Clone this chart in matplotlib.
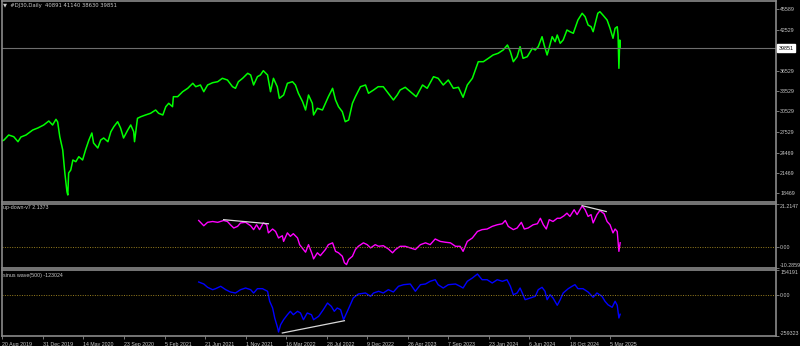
import matplotlib
matplotlib.use("Agg")
import matplotlib.pyplot as plt
import numpy as np

# DJ30 daily, x = bar number counted from 20 Aug 2019
price_bar = [-4, 4, 15, 27, 37, 44, 56, 72, 84, 98, 110, 119, 127, 131, 136, 143, 148, 153, 155, 157,
             162, 167, 174, 181, 190, 197, 205, 212, 216, 226, 233, 240, 250, 257, 264, 273, 280, 287, 297, 304,
             311, 313, 320, 328, 339, 351, 363, 370, 380, 387, 394, 403, 405, 415, 427, 439, 451, 458, 469, 477,
             486, 498, 510, 521, 533, 545, 552, 559, 569, 581, 588, 595, 604, 611, 618, 628, 635, 642, 651, 656,
             666, 675, 687, 694, 701, 711, 718, 725, 734, 737, 746, 758, 765, 772, 782, 789, 796, 805, 812, 820,
             829, 836, 848, 860, 867, 879, 890, 902, 914, 926, 935, 942, 954, 966, 980, 995, 1006, 1021, 1032, 1044,
             1056, 1068, 1080, 1091, 1101, 1113, 1120, 1127, 1139, 1151, 1162, 1174, 1186, 1196, 1203, 1210, 1219, 1226, 1233, 1243,
             1255, 1262, 1269, 1278, 1283, 1290, 1302, 1309, 1314, 1321, 1328, 1337, 1344, 1352, 1359, 1363, 1373, 1380, 1387, 1394,
             1399, 1410, 1415, 1422, 1432, 1439, 1446, 1451, 1456, 1458, 1460, 1462, 1463]
price_val = [26074, 26324, 27059, 26809, 26074, 26765, 27059, 27795, 28089, 28530, 29118, 28530, 29368, 28971, 26809, 24854, 21471, 18721, 18236, 21471,
             21912, 23383, 23133, 23868, 23383, 24854, 26324, 27354, 25883, 25148, 26324, 26618, 26074, 27545, 28280, 29015, 28089, 26618, 27795, 28530,
             27545, 26074, 29515, 29751, 30001, 30251, 30736, 30251, 30001, 31221, 31721, 31221, 32692, 32692, 33427, 33927, 34662, 34162, 34412, 33427,
             34412, 34751, 34898, 35398, 35148, 34162, 33927, 34898, 35398, 36133, 35883, 34412, 35633, 35883, 36515, 35883, 33427, 35398, 34162, 32457,
             32942, 34662, 34898, 34412, 33192, 31957, 30736, 32942, 31721, 30001, 30986, 30736, 31721, 32692, 33927, 32207, 31221, 30486, 29015, 29265,
             31721, 32692, 34162, 34412, 33192, 33677, 34162, 34162, 33192, 32207, 32942, 33677, 34074, 33427, 32692, 34412, 33927, 35633, 35398, 34412,
             35148, 33927, 34074, 32604, 34412, 35398, 36618, 37839, 37839, 38339, 38824, 39074, 39560, 40295, 39310, 37839, 38574, 40045, 38339, 38574,
             39810, 39560, 40045, 41515, 40295, 38824, 41515, 40780, 41765, 40545, 41030, 42501, 42251, 42015, 43236, 43971, 44957, 44457, 43236, 42986,
             42251, 44957, 45192, 44707, 43971, 42751, 41280, 42751, 42986, 41765, 36868, 41030, 39851]
last_price = 39851
price_header = "\u25bc  #DJ30,Daily  40891 41140 38630 39851"
price_ticks = [45589, 42529, 36529, 33529, 30529, 27529, 24469, 21469, 18469]

updown_bar = [465, 477, 486, 498, 510, 524, 533, 540, 548, 557, 564, 576, 588, 595, 602, 609, 618, 626, 630, 640,
              647, 654, 663, 666, 675, 682, 689, 699, 704, 713, 718, 725, 734, 737, 746, 753, 765, 772, 782, 789,
              796, 805, 810, 815, 820, 829, 836, 843, 855, 864, 872, 883, 891, 902, 914, 924, 931, 942, 954, 966,
              978, 990, 1002, 1013, 1025, 1037, 1049, 1061, 1073, 1084, 1091, 1101, 1113, 1125, 1136, 1148, 1160, 1172, 1184, 1191,
              1198, 1210, 1219, 1229, 1236, 1245, 1257, 1267, 1274, 1281, 1288, 1295, 1304, 1314, 1321, 1330, 1337, 1344, 1354, 1361,
              1373, 1380, 1387, 1394, 1399, 1408, 1415, 1425, 1432, 1439, 1446, 1451, 1456, 1460, 1463]
updown_val = [13.1, 10.5, 12.2, 12.6, 12.2, 13.1, 12.6, 11.0, 9.4, 10.2, 11.9, 12.2, 10.5, 8.6, 11.0, 8.6, 11.9, 11.0, 7.0, 8.9,
              7.7, 4.5, 5.6, 2.8, 7.0, 5.3, 6.6, 4.5, 1.2, -1.2, -2.5, 1.2, -3.7, -5.8, -2.8, -4.2, -1.2, 1.2, 2.1, -2.1,
              -2.8, -4.5, -7.7, -8.6, -6.1, -4.5, -1.2, 0.4, 2.1, 1.2, -0.4, 1.2, 0.4, 0.7, -0.9, -2.8, -1.2, 0.4, 0.4, -0.4,
              -1.2, 1.2, 2.1, 1.2, 4.0, 2.8, 2.4, 2.1, 0.4, 0.4, -2.1, 2.8, 4.5, 7.7, 8.6, 8.9, 10.2, 11.0, 11.5, 13.1,
              10.2, 8.6, 9.4, 12.2, 8.9, 9.4, 11.0, 11.5, 14.2, 11.0, 8.9, 13.5, 12.6, 14.2, 14.2, 15.4, 16.7, 15.1, 18.4, 16.0,
              20.3, 18.4, 15.1, 16.0, 11.9, 16.0, 18.0, 16.4, 12.6, 11.0, 7.0, 8.9, 7.7, -2.1, 2.1373]
updown_name = "up-down-v7 2.1373"
updown_limits = [-10.2859, 21.2147]
updown_lines = [[(524, 13.5), (630, 11.5)], [(1373, 20.4), (1430, 17.5)]]

sinus_bar = [465, 477, 486, 498, 505, 517, 529, 540, 552, 564, 576, 588, 595, 604, 616, 628, 633, 640, 645, 652,
             654, 659, 666, 675, 682, 689, 699, 706, 713, 722, 732, 737, 749, 760, 770, 779, 786, 793, 801, 808,
             817, 824, 831, 843, 860, 872, 879, 891, 902, 914, 926, 938, 950, 966, 978, 990, 1002, 1013, 1025, 1032,
             1044, 1056, 1073, 1084, 1091, 1101, 1113, 1125, 1136, 1148, 1160, 1172, 1184, 1195, 1203, 1210, 1219, 1226, 1233, 1238,
             1250, 1262, 1269, 1278, 1285, 1290, 1297, 1304, 1314, 1321, 1328, 1340, 1349, 1356, 1363, 1375, 1387, 1399, 1408, 1420,
             1427, 1434, 1444, 1451, 1456, 1460, 1463]
sinus_val = [79000, 66500, 45800, 30800, 37200, 52100, 30800, 16400, 10100, 30800, 41400, 30800, 10100, 37200, 37200, 20900, -41700, -83900, -146500, -209600,
             -234300, -188500, -157200, -125900, -104600, -125900, -104600, -115200, -157200, -115200, -125900, -157200, -136000, -94400, -52600, -73500, -104600, -83900, -94400, -157200,
             -104600, -63300, -21300, 3800, 10100, -10600, 10100, 20900, 10100, 30800, 16400, 52100, 62100, 66500, 20900, 62100, 66500, 83400, 93400, 62100,
             41400, 62100, 66500, 52100, 41400, 83400, 104100, 129100, 93400, 93400, 72700, 93400, 83400, 93400, 52100, -550, 10100, 41400, -550, -31900,
             -21300, -10600, 30800, 45800, 20900, -31900, -550, -21300, -67000, -31900, 10100, 37200, 52100, 62100, 37200, 37200, 16400, -16800, 10100, -10600,
             -41700, -63300, -79600, -41700, -67000, -146500, -123024]
sinus_name = "sinus wave(500) -123024"
sinus_limits = [-259323, 154191]
sinus_lines = [[(663, -240500), (810, -163500)]]

date_labels = ["20 Aug 2019", "31 Dec 2019", "14 May 2020", "23 Sep 2020", "5 Feb 2021", "21 Jun 2021",
               "1 Nov 2021", "16 Mar 2022", "28 Jul 2022", "9 Dec 2022", "26 Apr 2023", "7 Sep 2023",
               "23 Jan 2024", "6 Jun 2024", "18 Oct 2024", "5 Mar 2025"]
bars_per_label = 96

plt.rcParams["font.family"] = ["Liberation Sans", "DejaVu Sans"]

W, H = 800, 346
GRID = "#8a8a8a"
TXT = "#c8c8c8"
FS = 3.8

fig = plt.figure(figsize=(8, 3.46), dpi=100, facecolor="black")


def px_axes(x0, y0, x1, y1):
    return fig.add_axes([x0 / W, 1 - y1 / H, (x1 - x0) / W, (y1 - y0) / H])


def style(ax):
    ax.set_facecolor("black")
    for s in ax.spines.values():
        s.set_color(GRID)
        s.set_linewidth(1.2)
    ax.yaxis.tick_right()
    ax.tick_params(axis="y", colors=GRID, labelcolor=TXT, labelsize=FS, length=2, width=0.6, pad=1)
    ax.tick_params(axis="x", bottom=False, labelbottom=False)
    ax.set_xlim(-2, 1832)


ax_p = px_axes(1.5, 1, 776, 202)
ax_u = px_axes(1.5, 204, 776, 268)
ax_s = px_axes(1.5, 270, 776, 336)
for a in (ax_p, ax_u, ax_s):
    style(a)

# main price panel
ax_p.plot(price_bar, price_val, color="#00ff00", lw=1.1)
ax_p.axhline(last_price, color="#6e6e6e", lw=0.8)
ax_p.set_ylim(17206, 46765)
ax_p.set_yticks(price_ticks)
ax_p.set_yticklabels([str(t) for t in price_ticks])
ax_p.text(1.003, last_price, str(last_price), transform=ax_p.get_yaxis_transform(),
          ha="left", va="center", fontsize=FS, color="black",
          bbox=dict(boxstyle="square,pad=0.25", fc="white", ec="white"))
fig.text(3 / W, 1 - 6 / H, price_header, color=TXT, fontsize=FS, ha="left", va="center",
         family=["DejaVu Sans"])

# up-down indicator
ax_u.plot(updown_bar, updown_val, color="#ff00ff", lw=1.0)
ax_u.axhline(0, color="#9a8020", lw=0.7, ls=(0, (1, 1.5)))
for (x0, y0), (x1, y1) in updown_lines:
    ax_u.plot([x0, x1], [y0, y1], color="#d8d8d8", lw=0.9)
ax_u.set_ylim(*updown_limits)
ax_u.set_yticks([updown_limits[1], 0, updown_limits[0]])
ax_u.set_yticklabels([f"{updown_limits[1]:.4f}", "0.00", f"{updown_limits[0]:.4f}"])
fig.text(3 / W, 1 - 208 / H, updown_name, color=TXT, fontsize=FS, ha="left", va="center")

# sinus wave indicator
ax_s.plot(sinus_bar, sinus_val, color="#0000ff", lw=1.0)
ax_s.axhline(0, color="#9a8020", lw=0.7, ls=(0, (1, 1.5)))
for (x0, y0), (x1, y1) in sinus_lines:
    ax_s.plot([x0, x1], [y0, y1], color="#d8d8d8", lw=0.9)
ax_s.set_ylim(*sinus_limits)
ax_s.set_yticks([sinus_limits[1], 0, sinus_limits[0]])
ax_s.set_yticklabels([str(sinus_limits[1]), "0.00", str(sinus_limits[0])])
fig.text(3 / W, 1 - 276 / H, sinus_name, color=TXT, fontsize=FS, ha="left", va="center")

for a in (ax_u, ax_s):
    labs = a.get_yticklabels()
    labs[0].set_va("top")
    labs[-1].set_va("bottom")

ax_s.tick_params(axis="x", bottom=True, labelbottom=True, colors=GRID, labelcolor=TXT,
                 labelsize=FS, length=2.5, width=0.6, pad=1.5)
ax_s.set_xticks(np.arange(len(date_labels)) * bars_per_label)
ax_s.set_xticklabels(date_labels)
for lab in ax_s.get_xticklabels():
    lab.set_ha("left")

fig.savefig("out.png", dpi=100, facecolor="black")
